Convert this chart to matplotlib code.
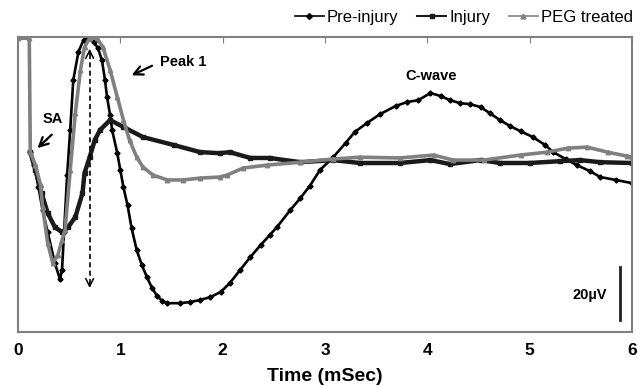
import matplotlib
matplotlib.use("Agg")
import matplotlib.pyplot as plt
from matplotlib.lines import Line2D

plt.rcParams['font.family'] = ['Liberation Sans', 'DejaVu Sans']

# Pre-injury trace (time in ms, amplitude in µV)
pre_t = [0.12, 0.16, 0.20, 0.24, 0.29, 0.36, 0.41, 0.43, 0.45, 0.48, 0.51, 0.54,
         0.59, 0.64, 0.70, 0.74, 0.78, 0.82, 0.85, 0.87, 0.90, 0.92, 0.97, 1.00,
         1.03, 1.07, 1.11, 1.16, 1.21, 1.26, 1.31, 1.36, 1.41, 1.46, 1.58, 1.68,
         1.78, 1.88, 1.98, 2.07, 2.17, 2.27, 2.37, 2.46, 2.53, 2.66, 2.76, 2.85,
         2.95, 3.08, 3.20, 3.29, 3.41, 3.54, 3.69, 3.80, 3.91, 4.03, 4.13, 4.22,
         4.32, 4.42, 4.52, 4.61, 4.71, 4.81, 4.91, 5.03, 5.15, 5.23, 5.35, 5.46,
         5.59, 5.69, 5.84, 6.00]
pre_v = [3.0, -1.9, -10.2, -18.9, -27.2, -38.9, -44.9, -41.5, -27.2, -5.7, 11.3, 30.2,
         40.8, 45.3, 46.2, 44.5, 42.3, 37.7, 30.2, 23.8, 17.0, 11.3, 2.6, -3.8,
         -10.2, -17.0, -25.7, -34.0, -39.6, -44.2, -48.3, -51.3, -53.2, -54.0, -54.0, -53.6,
         -52.8, -51.7, -49.8, -46.4, -41.5, -36.6, -32.1, -28.3, -25.3, -18.9, -14.3, -9.8,
         -3.8, 1.1, 6.4, 10.6, 14.0, 17.4, 20.4, 21.9, 22.6, 25.3, 24.2, 22.6,
         21.5, 21.1, 20.0, 17.7, 15.1, 12.8, 10.9, 8.7, 5.7, 3.0, 0.4, -1.9,
         -4.2, -6.4, -7.5, -8.7]

# Injury trace
inj_t = [0.12, 0.17, 0.23, 0.29, 0.36, 0.43, 0.49, 0.56, 0.63, 0.65, 0.70, 0.75,
         0.80, 0.90, 1.03, 1.22, 1.52, 1.78, 1.97, 2.07, 2.27, 2.46, 2.76, 3.08,
         3.34, 3.73, 4.03, 4.22, 4.52, 4.71, 5.00, 5.30, 5.49, 5.69, 6.00]
inj_v = [3.0, -3.8, -12.5, -20.0, -25.3, -27.2, -25.3, -21.5, -12.5, -4.9, 1.1, 7.5,
         11.3, 15.1, 12.5, 8.7, 5.7, 3.0, 2.6, 3.0, 0.8, 0.8, -0.8, 0.0,
         -1.1, -1.1, 0.0, -1.5, 0.0, -1.1, -1.1, -0.4, 0.0, -0.8, -1.1]

# PEG treated trace
peg_t = [0.00, 0.11, 0.12, 0.17, 0.22, 0.24, 0.29, 0.34, 0.39, 0.43, 0.46, 0.51,
         0.56, 0.61, 0.65, 0.70, 0.77, 0.83, 0.90, 0.97, 1.03, 1.09, 1.16, 1.22,
         1.32, 1.46, 1.61, 1.78, 1.97, 2.04, 2.20, 2.43, 2.76, 3.08, 3.34, 3.73,
         4.06, 4.25, 4.55, 4.91, 5.17, 5.37, 5.56, 5.76, 5.95, 6.00]
peg_v = [46.0, 46.0, 3.0, -1.9, -9.4, -17.7, -31.3, -38.9, -35.8, -30.2, -26.4, -3.8,
         17.7, 34.0, 42.6, 46.0, 46.0, 42.6, 34.0, 23.8, 15.1, 7.5, 1.1, -2.6,
         -5.7, -7.5, -7.5, -6.8, -6.4, -5.7, -3.0, -1.9, -0.8, 0.4, 1.1, 0.8,
         1.9, 0.0, 0.0, 1.9, 3.0, 4.5, 4.9, 3.0, 1.5, 1.1]

x_ticks = [0, 1, 2, 3, 4, 5, 6]

fig = plt.figure(figsize=(6.43, 3.87), dpi=100)
ax = fig.add_axes([0.028, 0.142, 0.955, 0.762])

ax.plot(pre_t, pre_v, color='black', lw=1.9, marker='D', ms=2.6)
ax.plot(inj_t, inj_v, color='#1a1a1a', lw=3.2, marker='s', ms=3.5)
ax.plot(peg_t, peg_v, color='#808080', lw=2.6, marker='^', ms=3.2)

ax.set_xlim(0, 6)
ax.set_ylim(-64.9, 46.4)
ax.set_xticks(x_ticks)
ax.set_xticklabels([str(t) for t in x_ticks], fontsize=12.5, fontweight='bold')
ax.set_yticks([])
ax.tick_params(axis='x', bottom=False, top=True, direction='in', length=4,
               color='#808080', pad=8)
for s in ax.spines.values():
    s.set_color('#808080')
    s.set_linewidth(1.5)
ax.set_xlabel('Time (mSec)', fontsize=14, fontweight='bold', labelpad=7)

# annotations
arrow = dict(arrowstyle='->', color='black', lw=1.6, mutation_scale=16,
             shrinkA=0, shrinkB=0)
ax.text(0.34, 15.5, 'SA', fontsize=10.5, fontweight='bold', ha='center', va='center')
ax.annotate('', xy=(0.19, 4.5), xytext=(0.33, 9.6), arrowprops=arrow)
ax.text(1.39, 37.0, 'Peak 1', fontsize=10.5, fontweight='bold', ha='left', va='center')
ax.annotate('', xy=(1.11, 32.0), xytext=(1.31, 35.6), arrowprops=arrow)
ax.text(4.04, 31.7, 'C-wave', fontsize=10.5, fontweight='bold', ha='center', va='center')

# dashed double arrow at the peak latency
ax.plot([0.70, 0.70], [40.0, -46.5], color='black', lw=1.2, ls=(0, (3, 2)))
head = dict(arrowstyle='->', color='black', lw=1.1, mutation_scale=14,
            shrinkA=0, shrinkB=0)
ax.annotate('', xy=(0.70, 42.0), xytext=(0.70, 40.0), arrowprops=head)
ax.annotate('', xy=(0.70, -48.3), xytext=(0.70, -46.3), arrowprops=head)

# scale bar
ax.plot([5.88, 5.88], [-40.4, -60.4], color='#222222', lw=2)
ax.text(5.59, -50.9, '20µV', fontsize=10.5, fontweight='bold', ha='center', va='center')

handles = [
    Line2D([], [], color='black', lw=1.2, marker='D', ms=3),
    Line2D([], [], color='#1a1a1a', lw=1.5, marker='s', ms=3.5),
    Line2D([], [], color='#808080', lw=1.2, marker='^', ms=3.5),
]
fig.legend(handles, ['Pre-injury', 'Injury', 'PEG treated'],
           loc='center right', bbox_to_anchor=(0.985, 0.955), ncol=3, frameon=False,
           fontsize=12, handlelength=1.75, handletextpad=0.2, columnspacing=1.1,
           borderaxespad=0, borderpad=0)

fig.savefig('out.png', dpi=100)
